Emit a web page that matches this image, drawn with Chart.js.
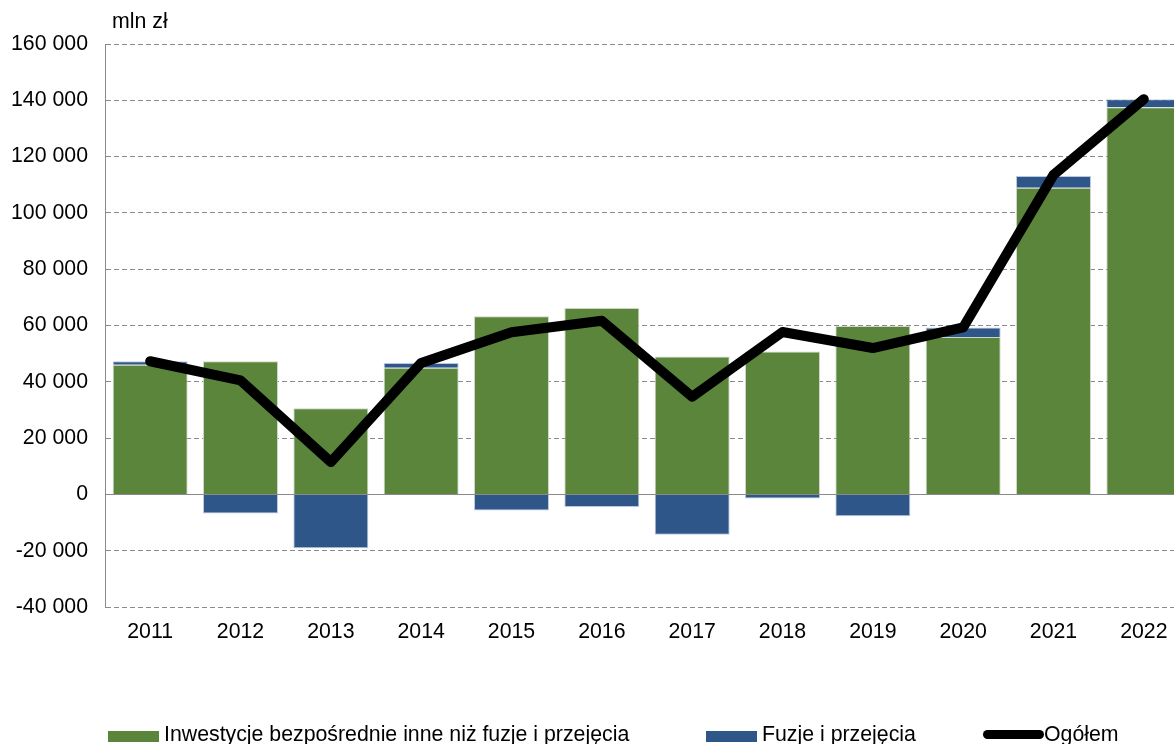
<!DOCTYPE html>
<html><head><meta charset="utf-8">
<script src="https://cdn.jsdelivr.net/npm/chart.js@4/dist/chart.umd.min.js"></script>
<style>
html,body{margin:0;padding:0;background:#fff;overflow:hidden}
#wrap{position:relative;width:1174px;height:744px;overflow:hidden}
canvas{position:absolute;left:0;top:0}
.lab{position:absolute;font-family:"Liberation Sans",Arial,sans-serif;font-size:21.3px;color:#000;white-space:nowrap;line-height:22px}
.box{position:absolute;height:11px;width:51px}
</style></head><body>
<div id="wrap">
<canvas id="c" width="1189" height="744"></canvas>
<div class="lab" style="left:112px;top:10px">mln zł</div>
<div class="box" style="left:108px;top:731px;background:#5B853A"></div>
<div class="lab" style="left:164px;top:723px">Inwestycje bezpośrednie inne niż fuzje i przejęcia</div>
<div class="box" style="left:706px;top:731px;background:#2F5689"></div>
<div class="lab" style="left:762px;top:723px">Fuzje i przejęcia</div>
<div style="position:absolute;left:983px;top:730px;width:61px;height:9px;background:#000;border-radius:5px"></div>
<div class="lab" style="left:1044px;top:723px">Ogółem</div>
</div>
<script>
const years = ['2011','2012','2013','2014','2015','2016','2017','2018','2019','2020','2021','2022'];
const otherInvest = [46100, 47300, 30600, 45000, 63300, 66200, 49000, 50800, 59800, 55900, 108900, 137500];
const mergers = [1200, -6800, -19100, 1700, -5700, -4500, -14300, -1500, -7800, 3400, 4200, 2900];
const total = [47300, 40500, 11500, 46700, 57600, 61700, 34700, 57700, 52000, 59300, 113500, 140400];
const yTicks = [-40000,-20000,0,20000,40000,60000,80000,100000,120000,140000,160000];

function fmt(v){
  const s = Math.abs(v).toString().replace(/\B(?=(\d{3})+(?!\d))/g,' ');
  return (v<0?'-':'') + s;
}
const FONT = {family:'"Liberation Sans", Arial, sans-serif', size:21.3};

const zeroLine = {
  id:'zeroLine',
  beforeDatasetsDraw(chart){
    const {ctx, chartArea, scales:{y}} = chart;
    const py = Math.round(y.getPixelForValue(0)) + 0.5;
    ctx.save();
    ctx.strokeStyle = '#8a8a8a'; ctx.lineWidth = 1; ctx.setLineDash([]);
    ctx.beginPath(); ctx.moveTo(chartArea.left, py); ctx.lineTo(chartArea.right, py); ctx.stroke();
    ctx.restore();
  }
};

new Chart(document.getElementById('c'), {
  data: {
    labels: years,
    datasets: [
      {type:'line', label:'Ogółem', data: total, borderColor:'#000', backgroundColor:'#000',
       borderWidth:10, pointRadius:0, tension:0, borderCapStyle:'round', borderJoinStyle:'round', order:0},
      {type:'bar', label:'Inwestycje bezpośrednie inne niż fuzje i przejęcia', data: otherInvest,
       backgroundColor:'#5B853A', borderColor:'rgba(200,210,195,0.9)', borderWidth:1, stack:'s', order:1},
      {type:'bar', label:'Fuzje i przejęcia', data: mergers,
       backgroundColor:'#2F5689', borderColor:'rgba(180,195,215,0.9)', borderWidth:1, stack:'s', order:2}
    ]
  },
  options: {
    responsive:false, animation:false,
    layout:{padding:{top:44,left:0,right:0,bottom:97}},
    datasets:{bar:{categoryPercentage:1, barPercentage:0.83}},
    plugins:{legend:{display:false}, tooltip:{enabled:false}},
    scales:{
      x:{stacked:true,
        grid:{display:false, drawTicks:false},
        border:{display:false},
        ticks:{font:FONT, color:'#000', padding:12, maxRotation:0},
        afterFit(s){ s.height = 40; }
      },
      y:{stacked:true, min:-40000, max:160000,
        afterBuildTicks(s){ s.ticks = yTicks.map(v=>({value:v})); },
        afterFit(s){ s.width = 105; },
        grid:{drawTicks:false, color:'#8a8a8a', lineWidth:1},
        border:{display:true, color:'#8a8a8a', width:1, dash:[5,3]},
        ticks:{font:FONT, color:'#000', padding:17, callback:v=>fmt(v)}
      }
    }
  },
  plugins:[zeroLine]
});
</script>
</body></html>
